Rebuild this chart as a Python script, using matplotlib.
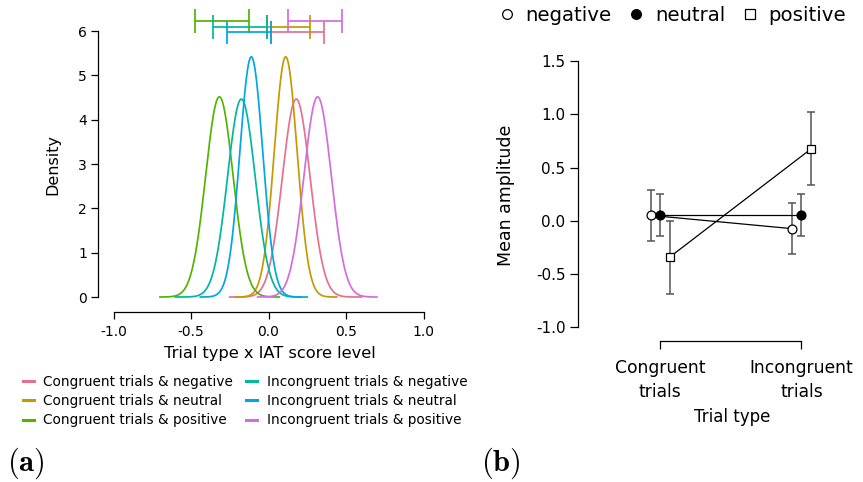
import numpy as np
import matplotlib
matplotlib.use("Agg")
import matplotlib.pyplot as plt
from matplotlib.lines import Line2D

plt.rcParams["font.family"] = ["DejaVu Sans"]
plt.rcParams["axes.unicode_minus"] = False
plt.rcParams["mathtext.fontset"] = "cm"

# ---------------- (a) posterior densities of the interaction ----------------
groups = [
    "Congruent trials & negative",
    "Congruent trials & neutral",
    "Congruent trials & positive",
    "Incongruent trials & negative",
    "Incongruent trials & neutral",
    "Incongruent trials & positive",
]
colors = ["#E7708F", "#C49A00", "#53B400", "#00B89E", "#00A6E7", "#D26DE0"]
post_mean = [0.179, 0.111, -0.317, -0.175, -0.111, 0.317]
post_sd = [0.0893, 0.0736, 0.0883, 0.0893, 0.0736, 0.0883]
grid_lo = [-0.25, -0.21, -0.70, -0.60, -0.44, -0.07]
grid_hi = [0.60, 0.44, 0.07, 0.25, 0.21, 0.70]
ci_lo = [0.014, -0.011, -0.474, -0.358, -0.268, 0.128]
ci_hi = [0.358, 0.268, -0.126, -0.011, 0.014, 0.474]
ci_row = [5.97, 6.10, 6.23, 6.10, 5.97, 6.23]

# ---------------- (b) mean amplitude by trial type ----------------
trial_types = ["Congruent\ntrials", "Incongruent\ntrials"]
neg_mean = [0.050, -0.075]
neg_lo = [-0.190, -0.316]
neg_hi = [0.288, 0.164]
neu_mean = [0.054, 0.054]
neu_lo = [-0.145, -0.145]
neu_hi = [0.252, 0.252]
pos_mean = [-0.344, 0.675]
pos_lo = [-0.687, 0.335]
pos_hi = [0.001, 1.020]

fig = plt.figure(figsize=(8.63, 4.82), dpi=100)
W, H = 863.0, 482.0

def box(x0, y_bottom, x1, y_top):
    return [x0 / W, (H - y_bottom) / H, (x1 - x0) / W, (y_bottom - y_top) / H]

# ---- left panel ----
ax1 = fig.add_axes(box(98, 312, 439, 5))
for m, s, lo, hi, c, lab in zip(post_mean, post_sd, grid_lo, grid_hi, colors, groups):
    x = np.linspace(lo, hi, 400)
    y = np.exp(-0.5 * ((x - m) / s) ** 2) / (s * np.sqrt(2 * np.pi))
    ax1.plot(x, y, color=c, lw=1.25, label=lab)

cap = 0.27
for lo, hi, yr, c in zip(ci_lo, ci_hi, ci_row, colors):
    ax1.hlines(yr, lo, hi, color=c, lw=1.25)
    ax1.vlines([lo, hi], yr - cap, yr + cap, color=c, lw=1.25)

ax1.set_xlim(-1.1, 1.1)
ax1.set_ylim(-0.338, 6.59)
ax1.set_xticks([-1.0, -0.5, 0.0, 0.5, 1.0])
ax1.set_xticklabels(["-1.0", "-0.5", "0.0", "0.5", "1.0"])
ax1.set_yticks(range(7))
for side in ("top", "right"):
    ax1.spines[side].set_visible(False)
ax1.spines["left"].set_bounds(0, 6)
ax1.spines["bottom"].set_bounds(-1, 1)
for sp in ("left", "bottom"):
    ax1.spines[sp].set_linewidth(0.9)
ax1.tick_params(axis="both", direction="out", length=5, width=0.9, labelsize=10)
ax1.tick_params(axis="x", pad=4)
ax1.tick_params(axis="y", pad=3)
ax1.set_xlabel("Trial type x IAT score level", fontsize=11.7, va="center")
ax1.xaxis.set_label_coords(0.503, -0.134)
ax1.set_ylabel("Density", fontsize=11.5, va="center")
ax1.yaxis.set_label_coords(-0.132, 0.479)

leg_handles = [Line2D([0], [0], color=c, lw=2.2) for c in colors]
fig.legend(leg_handles, groups, loc="upper left", bbox_to_anchor=(23 / W, 1 - 375 / H),
           ncol=2, frameon=False, fontsize=9.8, handlelength=0.8, handletextpad=0.7,
           columnspacing=0.95, labelspacing=0.38, borderpad=0, borderaxespad=0)

# ---- right panel ----
ax2 = fig.add_axes(box(578, 340.7, 851, 45))
xpos = np.arange(len(trial_types))
dodge = 0.067
series = [
    ("negative", neg_mean, neg_lo, neg_hi, -dodge, "o", "white"),
    ("neutral", neu_mean, neu_lo, neu_hi, 0.0, "o", "black"),
    ("positive", pos_mean, pos_lo, pos_hi, dodge, "s", "white"),
]
for name, mean, lo, hi, off, mk, fc in series:
    mean = np.array(mean)
    yerr = np.vstack([mean - np.array(lo), np.array(hi) - mean])
    ax2.errorbar(xpos + off, mean, yerr=yerr, fmt="none", ecolor="#555555",
                 elinewidth=1.1, capsize=3.2, capthick=1.1, zorder=2)
    ax2.plot(xpos + off, mean, color="black", lw=0.9, zorder=3)
    ax2.plot(xpos + off, mean, ls="none", marker=mk, ms=6.4 if mk == "o" else 6.0,
             mfc=fc, mec="black", mew=0.9, zorder=4)

ax2.set_xlim(-0.58, 1.35)
ax2.set_ylim(-1.13, 1.654)
ax2.set_xticks(xpos)
ax2.set_xticklabels(trial_types, linespacing=1.45)
ax2.set_yticks([-1.0, -0.5, 0.0, 0.5, 1.0, 1.5])
ax2.set_yticklabels(["-1.0", "-0.5", "0.0", "0.5", "1.0", "1.5"])
for side in ("top", "right"):
    ax2.spines[side].set_visible(False)
ax2.spines["left"].set_bounds(-1.0, 1.5)
ax2.spines["bottom"].set_bounds(0, 1)
for sp in ("left", "bottom"):
    ax2.spines[sp].set_linewidth(0.9)
ax2.tick_params(axis="both", direction="out", length=6, width=0.9)
ax2.tick_params(axis="y", labelsize=11, pad=3)
ax2.tick_params(axis="x", labelsize=12.3, pad=7)
ax2.set_xlabel("Trial type", fontsize=12, va="center")
ax2.xaxis.set_label_coords(0.563, -0.257)
ax2.set_ylabel("Mean amplitude", fontsize=12.5, va="center")
ax2.yaxis.set_label_coords(-0.264, 0.493)

leg2 = [
    Line2D([0], [0], ls="none", marker="o", ms=7, mfc="white", mec="black", mew=0.9),
    Line2D([0], [0], ls="none", marker="o", ms=7, mfc="black", mec="black", mew=0.9),
    Line2D([0], [0], ls="none", marker="s", ms=6.5, mfc="white", mec="black", mew=0.9),
]
fig.legend(leg2, ["negative", "neutral", "positive"], loc="upper left",
           bbox_to_anchor=(497 / W, 1 - 6 / H), ncol=3, frameon=False, fontsize=14.2,
           handlelength=1.0, handletextpad=0.45, columnspacing=0.75,
           borderpad=0, borderaxespad=0)

# panel tags
fig.text(7 / W, 1 - 463 / H, r"$\mathbf{(a)}$", fontsize=22, va="center", ha="left")
fig.text(481 / W, 1 - 463 / H, r"$\mathbf{(b)}$", fontsize=22, va="center", ha="left")

fig.savefig("out.png", dpi=100)
